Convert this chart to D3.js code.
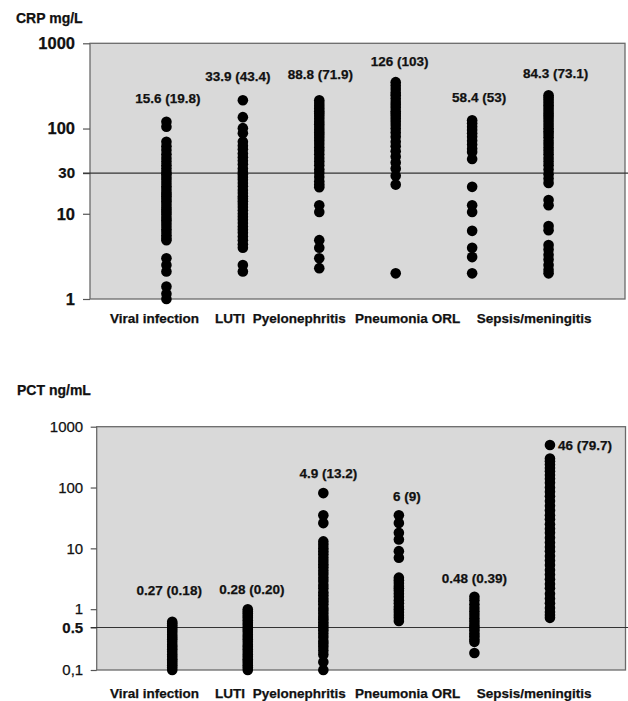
<!DOCTYPE html>
<html>
<head>
<meta charset="utf-8">
<script src="https://cdn.jsdelivr.net/npm/d3@7"></script>
<style>
  body { margin: 0; background: #fff; }
  svg { display: block; }
  text { font-family: "Liberation Sans", Arial, sans-serif; font-weight: bold; fill: #111; stroke: #111; stroke-width: 0.25px; }
</style>
</head>
<body>
<svg id="chart" width="628" height="701"></svg>
<script>
// categories, same for both panels
const categories = ["Viral infection", "LUTI", "Pyelonephritis", "Pneumonia", "ORL", "Sepsis/meningitis"];

// CRP mg/L, one dot per patient
const crpViral = [120, 105, 70, 62, 56, 50, 45, 41, 37, 34, 31, 29, 27, 25, 23, 21, 19.5, 18, 17, 16, 15, 14, 13, 12, 11.2, 10.5, 9.8, 9, 8.4, 7.8, 7.2, 6.6, 6.1, 5.6, 5.2, 4.9, 3.0, 2.5, 2.1, 1.4, 1.15, 1.0];
const crpLuti = [215, 136, 101, 88, 70, 63, 57, 51, 46, 42, 38, 34, 31, 29, 27, 25, 23, 21, 19, 17.5, 16, 15, 14, 13, 12, 11, 10, 9.2, 8.5, 7.8, 7.1, 6.5, 6, 5.4, 4.9, 4.4, 4.0, 2.5, 2.1];
const crpPyelo = [215, 200, 185, 172, 160, 150, 140, 130, 120, 112, 104, 97, 90, 84, 78, 72, 66, 60, 55, 50, 45, 41, 37, 33, 30, 27, 24, 22, 20.5, 12.6, 10.5, 4.9, 4.0, 3.0, 2.3];
const crpPneumonia = [350, 320, 290, 265, 245, 225, 205, 190, 175, 160, 150, 140, 130, 120, 110, 100, 90, 80, 70, 62, 54, 47, 40, 34, 28, 22, 2.0];
const crpOrl = [125, 115, 105, 96, 88, 80, 72, 65, 58, 53, 44, 20.7, 12.6, 10.5, 6.3, 4.0, 3.1, 2.0];
const crpSepsis = [246, 232, 218, 202, 188, 174, 162, 150, 140, 130, 120, 110, 101, 93, 86, 79, 72, 66, 60, 55, 50, 45, 41, 37, 33, 29, 26, 23, 14.5, 12.6, 7.2, 6.4, 4.3, 3.8, 3.3, 2.9, 2.5, 2.2, 2.0];
const crpNotes = ["15.6 (19.8)", "33.9 (43.4)", "88.8 (71.9)", "126 (103)", "58.4 (53)", "84.3 (73.1)"];
const crpTicks = [1, 10, 30, 100, 1000];
const crpTickLabels = ["1", "10", "30", "100", "1000"];
const crpCutoff = 30;

// PCT ng/mL
const pctViral = [0.62, 0.58, 0.54, 0.5, 0.46, 0.42, 0.38, 0.35, 0.32, 0.29, 0.26, 0.24, 0.22, 0.2, 0.18, 0.165, 0.15, 0.14, 0.13, 0.12, 0.11, 0.1];
const pctLuti = [1.0, 0.92, 0.85, 0.78, 0.72, 0.66, 0.6, 0.55, 0.5, 0.46, 0.42, 0.38, 0.35, 0.32, 0.29, 0.26, 0.24, 0.22, 0.2, 0.18, 0.165, 0.15, 0.14, 0.13, 0.12, 0.11, 0.1];
const pctPyelo = [81, 35, 26, 13, 11.5, 10, 9, 8, 7, 6.2, 5.5, 4.9, 4.3, 3.8, 3.3, 2.9, 2.5, 2.2, 1.9, 1.7, 1.5, 1.35, 1.2, 1.05, 0.95, 0.85, 0.75, 0.68, 0.61, 0.55, 0.5, 0.45, 0.4, 0.35, 0.3, 0.27, 0.24, 0.21, 0.18, 0.135, 0.1];
const pctPneumonia = [35, 26, 18, 14, 9, 7, 3.3, 3.0, 2.7, 2.4, 2.2, 2.0, 1.8, 1.6, 1.4, 1.25, 1.1, 1.0, 0.9, 0.8, 0.72, 0.64];
const pctOrl = [1.6, 1.4, 1.2, 1.05, 0.92, 0.8, 0.7, 0.62, 0.55, 0.5, 0.45, 0.4, 0.36, 0.32, 0.29, 0.19];
const pctSepsis = [500, 300, 270, 240, 210, 185, 160, 140, 120, 100, 85, 72, 60, 50, 42, 35, 30, 25, 21, 18, 15, 12.5, 10.5, 9, 7.5, 6.3, 5.3, 4.4, 3.7, 3.1, 2.6, 2.2, 1.8, 1.5, 1.25, 1.05, 0.9, 0.8, 0.72];
const pctNotes = ["0.27 (0.18)", "0.28 (0.20)", "4.9 (13.2)", "6 (9)", "0.48 (0.39)", "46 (79.7)"];
const pctTicks = [0.1, 0.5, 1, 10, 100, 1000];
const pctTickLabels = ["0,1", "0.5", "1", "10", "100", "1000"];
const pctCutoff = 0.5;

const svg = d3.select("#chart");

// category names are typed along one line, not centred on the columns
const labelX = [110, 215, 252.7, 355, 431.7, 476.7];

function drawPanel(o) {
  const g = svg.append("g");
  const x = d3.scalePoint().domain(categories).range([o.left, o.right]).padding(1);
  const y = d3.scaleLog().domain(o.domain).range([o.bottom, o.top]);

  g.append("text").attr("x", o.titleX).attr("y", o.titleY)
    .style("font-size", "14px").text(o.title);

  g.append("rect")
    .attr("x", o.left).attr("y", o.top)
    .attr("width", o.right - o.left).attr("height", o.bottom - o.top)
    .attr("fill", "#d9d9d9").attr("stroke", "#6a6a6a").attr("stroke-width", 1.3);

  const axis = d3.axisLeft(y).tickValues(o.ticks)
    .tickFormat((d, i) => o.tickLabels[i]).tickSize(o.tickLen).tickPadding(o.tickPad);
  const ax = g.append("g").attr("transform", `translate(${o.left},0)`).call(axis);
  ax.select(".domain").remove();
  ax.selectAll(".tick line").attr("stroke", "#555").attr("stroke-width", 1.2);
  ax.selectAll(".tick text")
    .attr("fill", "#111")
    .style("font-family", '"Liberation Sans", Arial, sans-serif')
    .style("font-size", d => (d === o.cutoff ? o.cutSize : o.tickFont) + "px")
    .style("font-weight", d => (d === o.cutoff || o.tickBold) ? "bold" : "normal");

  g.append("line")
    .attr("x1", o.left - o.tickLen).attr("x2", 628)
    .attr("y1", y(o.cutoff)).attr("y2", y(o.cutoff))
    .attr("stroke", "#333").attr("stroke-width", 1.1);

  o.series.forEach((vals, i) => {
    g.append("g").selectAll("circle").data(vals).enter().append("circle")
      .attr("cx", x(categories[i])).attr("cy", d => y(d)).attr("r", 5.3)
      .attr("fill", "#000");
  });

  o.notes.forEach((t, i) => {
    const top = y(d3.max(o.series[i]));
    const side = o.noteSide[i];
    g.append("text")
      .attr("x", x(categories[i]) + o.noteDx[i])
      .attr("y", side ? top + 5 : top - o.noteDy[i])
      .attr("text-anchor", side ? "start" : "middle")
      .style("font-size", "13.5px").text(t);
  });

  categories.forEach((c, i) => {
    g.append("text").attr("x", labelX[i]).attr("y", o.labelY)
      .style("font-size", "13.5px").text(c);
  });
}

drawPanel({
  title: "CRP mg/L", titleX: 16, titleY: 23,
  left: 90, right: 625, top: 43.3, bottom: 299,
  domain: [1, 1000], series: [crpViral, crpLuti, crpPyelo, crpPneumonia, crpOrl, crpSepsis],
  notes: crpNotes, ticks: crpTicks, tickLabels: crpTickLabels, cutoff: crpCutoff,
  tickLen: 7, tickPad: 8, tickFont: 16.5, cutSize: 15, tickBold: true,
  noteDx: [1.5, -5, 1, 4, 7, 7], noteDy: [19, 19, 21, 16, 18, 17], noteSide: [0, 0, 0, 0, 0, 0],
  labelY: 323
});

drawPanel({
  title: "PCT ng/mL", titleX: 17, titleY: 395,
  left: 96.7, right: 625.5, top: 426.7, bottom: 670,
  domain: [0.1, 1000], series: [pctViral, pctLuti, pctPyelo, pctPneumonia, pctOrl, pctSepsis],
  notes: pctNotes, ticks: pctTicks, tickLabels: pctTickLabels, cutoff: pctCutoff,
  tickLen: 6, tickPad: 7.5, tickFont: 15, cutSize: 15, tickBold: false,
  noteDx: [-3, 4, 5, 8, 0, 8], noteDy: [27, 15, 15, 14, 14, 0], noteSide: [0, 0, 0, 0, 0, 1],
  labelY: 698
});
</script>
</body>
</html>
